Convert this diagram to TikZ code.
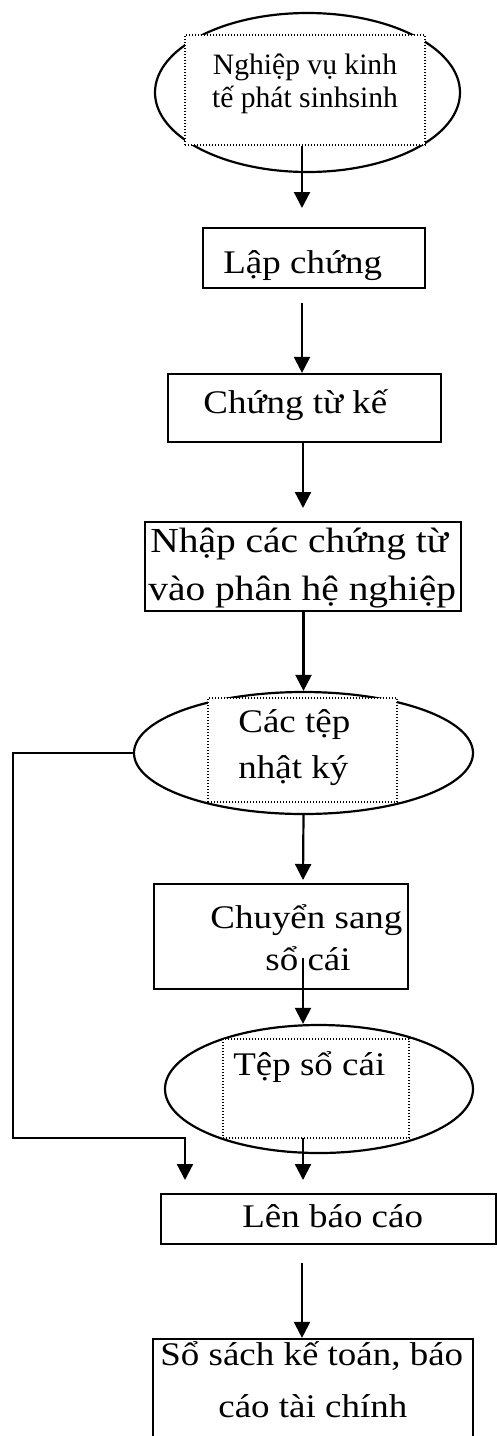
\documentclass[tikz,border=0pt]{standalone}
\usepackage{fontspec}
\setmainfont{Liberation Serif}
\newfontfamily\boxfont{Liberation Serif}[FakeStretch=1.12]
\usetikzlibrary{arrows.meta,shapes.geometric}

\tikzset{
  flow/.style={line width=1.1pt,-{Triangle[width=8pt,length=8pt]}},
  procbox/.style={draw,line width=1.1pt,rectangle,inner sep=0pt},
  store/.style={draw,line width=1.1pt,ellipse,inner sep=0pt},
  textframe/.style={draw,fill=white,line width=0.7pt,dash pattern=on 0.7pt off 0.8pt,inner sep=0pt},
  lbl/.style={anchor=base west,inner sep=0pt,font=\boxfont\fontsize{16.5}{20}\selectfont},
  biglbl/.style={anchor=base west,inner sep=0pt,font=\boxfont\fontsize{17.6}{21}\selectfont},
  toplbl/.style={anchor=base,inner sep=0pt,font=\fontsize{14.8}{18}\selectfont},
}

\begin{document}
\begin{tikzpicture}[x=0.5pt,y=-0.5pt]
\useasboundingbox (0,0) rectangle (497,1436);

% start event
\node[store,minimum width=152.5pt,minimum height=79.5pt] (start) at (307.5,92.5) {};
\node[textframe,minimum width=120pt,minimum height=55pt] (startframe) at (305,90) {};
\node[toplbl] (startA) at (305,74) {Nghiệp vụ kinh};
\node[toplbl] (startB) at (305,107) {tế phát sinhsinh};

% processing steps
\node[procbox,minimum width=111pt,minimum height=30pt] (make) at (314,258) {};
\node[lbl] (makeT) at (223,273) {Lập chứng};

\node[procbox,minimum width=136.5pt,minimum height=34pt] (docs) at (304.5,408) {};
\node[lbl] (docsT) at (203,413) {Chứng từ kế};

\node[procbox,minimum width=158pt,minimum height=44.5pt] (entry) at (303,566.5) {};
\node[biglbl] (entryA) at (150,552) {Nhập các chứng từ};
\node[biglbl] (entryB) at (148,600) {vào phân hệ nghiệp};

\node[store,minimum width=169.5pt,minimum height=61pt] (journal) at (303.5,753) {};
\node[textframe,minimum width=94.5pt,minimum height=52pt] (journalframe) at (302.5,750) {};
\node[lbl] (journalA) at (238,732) {Các tệp};
\node[lbl] (journalB) at (238,778) {nhật ký};

\node[procbox,minimum width=127pt,minimum height=52.5pt] (post) at (281,936.5) {};
\node[lbl] (postA) at (210,928) {Chuyển sang};
\node[lbl] (postB) at (265,970) {sổ cái};

\node[store,minimum width=154pt,minimum height=64pt] (ledger) at (319,1089) {};
\node[textframe,minimum width=93pt,minimum height=49.5pt] (ledgerframe) at (316,1088.5) {};
\node[lbl] (ledgerT) at (233,1075) {Tệp sổ cái};

\node[procbox,minimum width=167.5pt,minimum height=25pt] (report) at (328.5,1219) {};
\node[lbl] (reportT) at (242,1227) {Lên báo cáo};

\node[procbox,minimum width=160pt,minimum height=56pt] (books) at (313,1395) {};
\node[lbl] (booksA) at (160,1365) {Sổ sách kế toán, báo};
\node[lbl] (booksB) at (218,1417) {cáo tài chính};

% connector ends
\coordinate (tip1) at (302,208);
\coordinate (from2) at (302,303);
\coordinate (tip3) at (303,508);
\coordinate (tip5) at (303,880);
\coordinate (from6) at (303,958);
\coordinate (from7) at (303,1138);
\coordinate (tip7) at (303,1180);
\coordinate (bendA) at (13,753);
\coordinate (bendB) at (13,1138);
\coordinate (bendC) at (185,1138);
\coordinate (tipL) at (185,1180);
\coordinate (from9) at (302,1263);

% connectors
\draw[flow] (startframe.south -| tip1) -- (tip1);
\draw[flow] (from2) -- (from2 |- docs.north);
\draw[flow] (docs.south -| tip3) -- (tip3);
\draw[flow] (entry.south -| journal.north) -- (journal.north);
\draw[flow] (journal.south) -- (tip5);
\draw[flow] (from6) -- (from6 |- ledger.north);
\draw[flow] (from7) -- (tip7);
\draw[flow] (journal.west) -- (bendA) -- (bendB) -- (bendC) -- (tipL);
\draw[flow] (from9) -- (from9 |- books.north);
\end{tikzpicture}
\end{document}
